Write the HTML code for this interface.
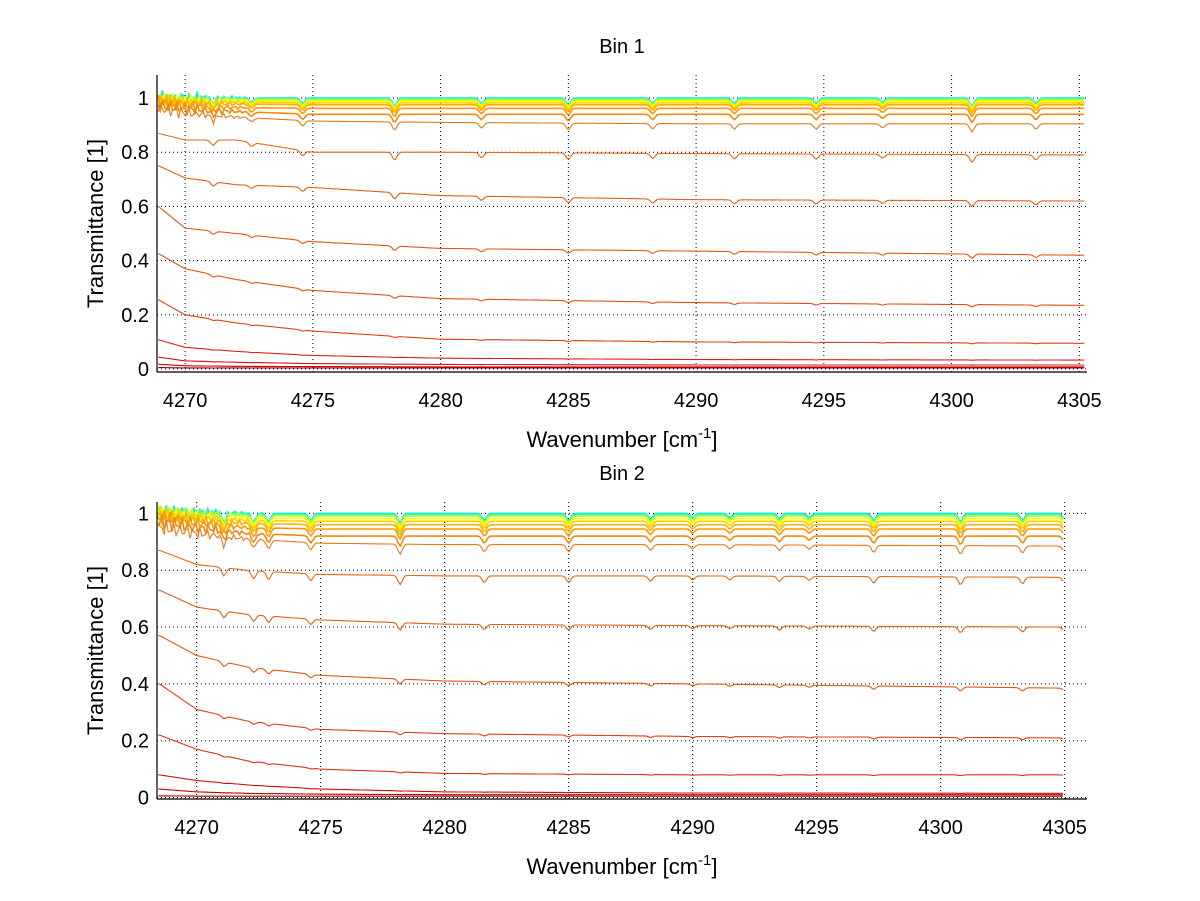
<!DOCTYPE html>
<html><head><meta charset="utf-8"><style>
body{margin:0;background:#fff;}
svg{display:block;font-family:"Liberation Sans",Arial,sans-serif;}
</style></head><body>
<svg id="fig" width="1200" height="901" viewBox="0 0 1200 901"></svg>
<script>
// ---------- data ----------
const anchorsX = [4268.5, 4270, 4272, 4275, 4280, 4290, 4305];
const bin1Series = [
 [1.0,1.0,1.0,1.0,1.0,1.0,1.0],
 [1.0,0.995,0.998,0.997,0.997,0.997,0.997],
 [1.0,0.99,0.995,0.993,0.993,0.993,0.993],
 [1.0,0.99,0.99,0.988,0.988,0.988,0.988],
 [1.0,0.985,0.985,0.982,0.982,0.982,0.982],
 [1.0,0.98,0.978,0.975,0.975,0.975,0.975],
 [0.99,0.97,0.965,0.962,0.962,0.962,0.962],
 [0.98,0.96,0.95,0.94,0.94,0.94,0.94],
 [0.97,0.945,0.93,0.915,0.91,0.905,0.905],
 [0.88,0.845,0.845,0.80,0.80,0.795,0.79],
 [0.77,0.705,0.68,0.67,0.64,0.625,0.62],
 [0.635,0.52,0.50,0.47,0.445,0.435,0.42],
 [0.45,0.37,0.33,0.29,0.26,0.245,0.235],
 [0.28,0.20,0.17,0.14,0.11,0.10,0.095],
 [0.12,0.08,0.065,0.05,0.04,0.035,0.033],
 [0.05,0.03,0.025,0.02,0.017,0.015,0.015],
 [0.02,0.012,0.01,0.009,0.008,0.008,0.008],
 [0.006,0.004,0.004,0.004,0.004,0.004,0.004]
];
const bin2Series = [
 [1.0,1.0,1.0,1.0,1.0,1.0,1.0],
 [1.0,0.998,0.997,0.996,0.996,0.996,0.996],
 [1.0,0.995,0.993,0.99,0.99,0.99,0.99],
 [1.0,0.99,0.985,0.982,0.982,0.982,0.982],
 [1.0,0.985,0.975,0.972,0.972,0.972,0.972],
 [0.99,0.975,0.965,0.96,0.96,0.96,0.96],
 [0.99,0.965,0.95,0.945,0.945,0.945,0.945],
 [0.97,0.95,0.93,0.92,0.92,0.92,0.92],
 [0.95,0.93,0.91,0.895,0.89,0.89,0.885],
 [0.87,0.82,0.80,0.785,0.78,0.78,0.775],
 [0.73,0.67,0.645,0.625,0.61,0.605,0.60],
 [0.57,0.50,0.46,0.43,0.41,0.40,0.385],
 [0.40,0.31,0.27,0.24,0.225,0.215,0.21],
 [0.22,0.17,0.13,0.10,0.085,0.08,0.08],
 [0.08,0.06,0.045,0.03,0.02,0.016,0.015],
 [0.03,0.02,0.015,0.012,0.01,0.01,0.01],
 [0.006,0.005,0.005,0.005,0.005,0.005,0.005]
];
const bin1Colors = ["#00e8ff","#40ff90","#b0ff40","#ffff00","#ffd000","#ffb000","#ff9800","#f08a10","#e87a18","#e06a18","#e06018","#e05818","#e05018","#e04010","#e02010","#d81010","#d00000","#a00000"];
const bin2Colors = ["#00e8ff","#40ff90","#b0ff40","#ffff00","#ffd000","#ffb000","#ff9800","#f08a10","#e87a18","#e06a18","#e06018","#e05818","#e04018","#e03010","#d01010","#c00000","#a00000"];
const bin1Lines = [4271.1,4272.6,4274.6,4278.2,4281.6,4285.0,4288.3,4291.5,4294.7,4297.3,4300.8,4303.3];
const bin1Depths = [0.02,0.015,0.02,0.03,0.02,0.025,0.02,0.02,0.02,0.015,0.03,0.02];
const bin2Lines = [4271.1,4272.3,4272.9,4274.6,4278.2,4281.6,4285.0,4288.3,4290.0,4291.5,4293.5,4294.7,4297.3,4300.8,4303.3,4305.0];
const bin2Depths = [0.03,0.03,0.03,0.025,0.035,0.025,0.025,0.02,0.015,0.015,0.02,0.015,0.025,0.03,0.025,0.02];
const xTicks = [4270,4275,4280,4285,4290,4295,4300,4305];
const yTicks = [0,0.2,0.4,0.6,0.8,1];

const NS="http://www.w3.org/2000/svg";
const svg=document.getElementById('fig');
function mk(tag,attrs,parent){const e=document.createElementNS(NS,tag);for(const k in attrs)e.setAttribute(k,attrs[k]);(parent||svg).appendChild(e);return e;}

function interp(xs,ys,x){
  if(x<=xs[0])return ys[0];
  for(let i=1;i<xs.length;i++){if(x<=xs[i]){const t=(x-xs[i-1])/(xs[i]-xs[i-1]);return ys[i-1]+t*(ys[i]-ys[i-1]);}}
  return ys[ys.length-1];
}

function drawPanel(cfg){
  const {L,R,T,B,x0,x1,y0,y1,xEnd,series,colors,lines,depths,title,name}=cfg;
  const g=mk('g',{});
  
  
  const sx=v=>L+(v-x0)/(x1-x0)*(R-L);
  const sy=v=>B-(v-y0)/(y1-y0)*(B-T);
  xTicks.forEach(t=>{
    const gl=mk('line',{x1:sx(t),x2:sx(t),y1:T,y2:B,stroke:'#000','stroke-width':1,'stroke-dasharray':'1,3'},g);
    
    
    const tl=mk('text',{x:sx(t),y:B+35,'font-size':20,'text-anchor':'middle',fill:'#000'},g);
    tl.textContent=t;
    
    
  });
  yTicks.forEach(t=>{
    mk('line',{x1:L,x2:R,y1:sy(t),y2:sy(t),stroke:'#000','stroke-width':1,'stroke-dasharray':'1,3'},g);
    const tl=mk('text',{x:L-8,y:sy(t)+7,'font-size':20,'text-anchor':'end',fill:'#000'},g);
    tl.textContent=t;
    
    
  });
  series.forEach((s,si)=>{
    let d='';
    for(let x=x0+0.05;x<=xEnd+1e-6;x+=0.08){
      let v=interp(anchorsX,s,x);
      lines.forEach((c,i)=>{v-=depths[i]*Math.min(1,v*1.2)*Math.exp(-Math.pow((x-c)/0.12,2));});
      if(si<9 && x<4273){v+=(0.018*Math.sin(x*23.1+si*1.7)+0.012*Math.sin(x*41.3+si))*Math.max(0,(4273-x)/4);}
      d+=(d?'L':'M')+sx(x).toFixed(1)+','+sy(v).toFixed(1);
    }
    const p=mk('path',{d:d,fill:'none',stroke:colors[si],'stroke-width':si<8?1.6:1.1},g);
    
    
  });
  mk('line',{x1:L,x2:L,y1:T,y2:B,stroke:'#000','stroke-width':1.2},g);
  mk('line',{x1:L,x2:R,y1:B,y2:B,stroke:'#000','stroke-width':1.2},g);
  const tt=mk('text',{x:(L+R)/2,y:T-22,'font-size':20,'text-anchor':'middle',fill:'#000'},g);
  tt.textContent=title;
  
  
  const xl=mk('text',{x:(L+R)/2,y:B+75,'font-size':22,'text-anchor':'middle',fill:'#000'},g);
  xl.innerHTML='Wavenumber [cm<tspan dy="-9" font-size="15">-1</tspan><tspan dy="9">]</tspan>';
  
  
  const yl=mk('text',{x:0,y:0,'font-size':22,'text-anchor':'middle',fill:'#000',transform:`translate(103,${(T+B)/2}) rotate(-90)`},g);
  yl.textContent='Transmittance [1]';
  
  
}

drawPanel({L:157,R:1087,T:75,B:372,x0:4268.9,x1:4305.3,y0:-0.011,y1:1.085,xEnd:4305.2,series:bin1Series,colors:bin1Colors,lines:bin1Lines,depths:bin1Depths,title:'Bin 1',name:'bin1-panel'});
drawPanel({L:157,R:1087,T:502,B:799,x0:4268.4,x1:4305.9,y0:-0.005,y1:1.04,xEnd:4305.0,series:bin2Series,colors:bin2Colors,lines:bin2Lines,depths:bin2Depths,title:'Bin 2',name:'bin2-panel'});
</script>
</body></html>
